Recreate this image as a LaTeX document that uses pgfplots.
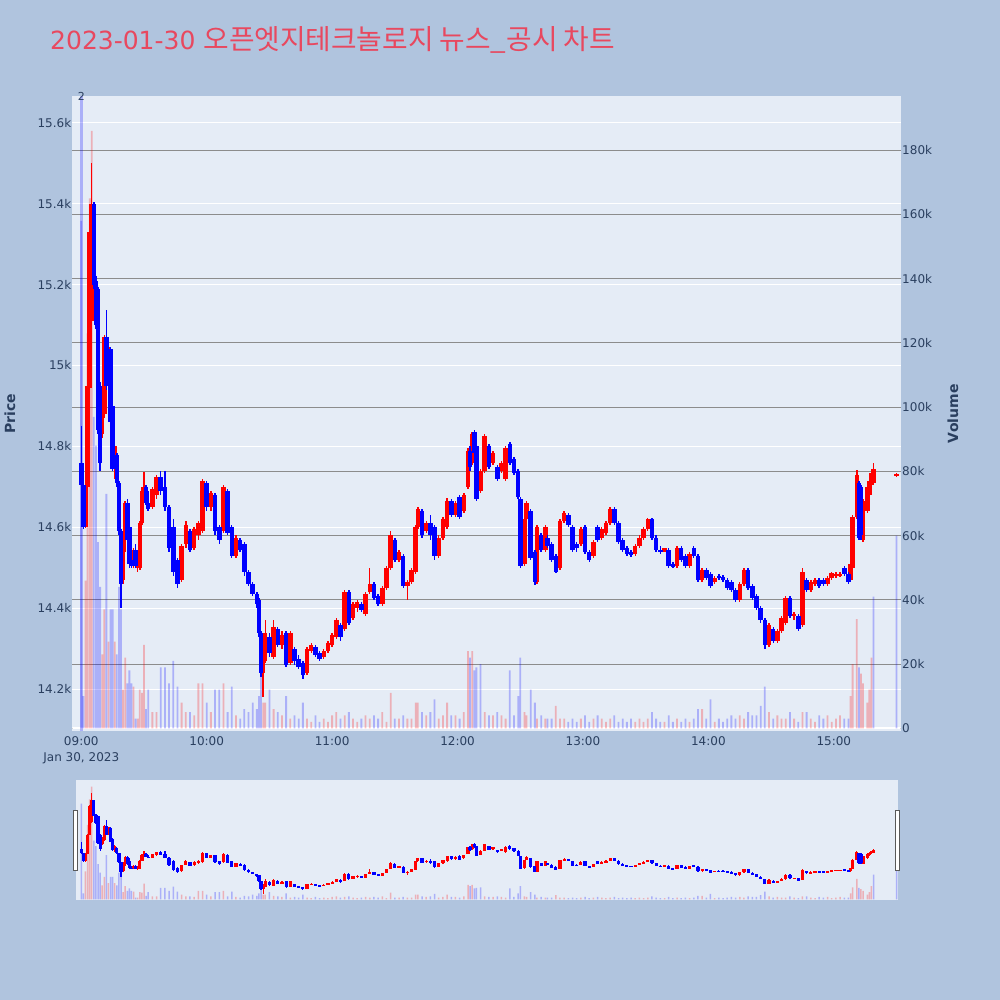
\documentclass[border=0pt]{standalone}
\usepackage{pgfplots}
\pgfplotsset{compat=1.18}
\usepackage{pgfplotstable}
\usepackage{fontspec}
\setmainfont{DejaVu Sans}
\newfontfamily\cjk{Noto Sans CJK KR}
\definecolor{pagebg}{HTML}{B0C4DE}
\definecolor{plotbg}{HTML}{E5ECF6}
\definecolor{txt}{HTML}{2A3F5F}
\definecolor{ttl}{HTML}{E8485F}
\definecolor{vgrid}{HTML}{8C8C8C}
\definecolor{upc}{HTML}{FF0000}
\definecolor{dnc}{HTML}{0000FF}

\pgfplotstableread{
t o h l c v d
0 14760 14850 14700 14705 158 0
1 14705 14710 14595 14600 10 0
2 14600 14710 14598 14700 46 1
3 14700 14960 14698 14950 123 1
4 14945 15340 14940 15330 165 1
5 15110 15500 15105 15400 186 1
6 15400 15405 15190 15200 97 0
7 15210 15220 15090 15100 88 0
8 15190 15195 14830 14840 58 0
9 14950 14960 14740 14760 44 0
10 14830 14920 14820 14910 23 1
11 14880 15075 14870 15070 37 1
12 15070 15137 14940 14950 73 0
13 14950 15050 14945 15045 27 1
14 15040 15045 14850 14860 37 0
15 14900 14905 14740 14745 37 0
16 14745 14810 14720 14800 27 1
17 14780 14785 14700 14710 23 0
18 14710 14715 14580 14590 44 0
19 14590 14595 14400 14460 37 0
20 14470 14590 14460 14585 12 1
21 14580 14665 14540 14660 22 1
22 14660 14670 14560 14570 14 0
23 14600 14640 14500 14510 18 0
24 14520 14540 14500 14505 14 0
25 14510 14550 14500 14545 13 1
26 14545 14560 14500 14505 3 0
27 14500 14540 14490 14535 3 1
28 14500 14615 14495 14610 12 1
29 14610 14700 14605 14690 11 1
30 14690 14738 14685 14700 26 1
31 14700 14705 14655 14660 6 0
32 14660 14690 14640 14645 12 0
34 14650 14700 14645 14695 5 1
36 14680 14730 14670 14725 5 1
38 14725 14740 14680 14690 19 0
40 14700 14740 14640 14650 19 0
42 14650 14655 14540 14550 14 0
44 14600 14620 14480 14490 21 0
46 14520 14525 14450 14460 13 0
48 14470 14560 14465 14555 8 1
50 14560 14615 14550 14605 5 1
52 14590 14595 14540 14545 5 0
54 14550 14600 14545 14595 4 1
56 14580 14615 14570 14610 14 1
58 14590 14720 14585 14715 14 1
60 14710 14715 14640 14650 8 0
62 14650 14690 14640 14685 5 1
64 14680 14685 14580 14590 12 0
66 14600 14605 14560 14570 12 0
68 14590 14705 14585 14700 14 1
70 14690 14695 14580 14585 5 0
72 14600 14605 14525 14530 13 0
74 14530 14580 14525 14575 4 1
76 14570 14575 14540 14545 3 0
78 14560 14565 14480 14490 6 0
80 14490 14495 14455 14460 5 0
82 14460 14465 14430 14435 8 0
84 14435 14440 14400 14410 6 0
85 14420 14425 14330 14340 10 0
86 14340 14345 14230 14240 19 0
87 14240 14300 14180 14290 8 1
88 14270 14370 14265 14340 8 1
90 14330 14340 14280 14290 12 0
92 14280 14370 14275 14355 6 1
94 14350 14355 14305 14310 5 0
96 14310 14345 14300 14335 4 1
98 14340 14345 14255 14260 10 0
100 14265 14345 14260 14340 3 1
102 14300 14305 14260 14270 4 0
104 14275 14285 14250 14255 3 0
106 14265 14270 14225 14235 8 0
108 14240 14305 14235 14300 3 1
110 14295 14315 14290 14310 2 1
112 14305 14310 14280 14285 4 0
114 14290 14295 14270 14275 2 0
116 14280 14300 14275 14295 3 1
118 14295 14320 14290 14315 2 1
120 14310 14340 14305 14335 4 1
122 14330 14375 14325 14370 5 1
124 14360 14365 14320 14330 3 0
126 14350 14445 14345 14440 4 1
128 14440 14445 14360 14365 5 0
130 14375 14415 14370 14410 3 1
132 14400 14420 14390 14415 2 1
134 14410 14415 14390 14395 3 0
136 14385 14440 14380 14435 4 1
138 14440 14500 14435 14460 3 1
140 14460 14465 14420 14425 4 0
142 14430 14435 14405 14410 3 0
144 14410 14455 14405 14450 5 1
146 14450 14505 14445 14500 2 1
148 14500 14590 14495 14580 11 1
150 14570 14575 14515 14520 3 0
152 14520 14545 14515 14540 3 1
154 14530 14535 14450 14455 4 0
156 14455 14470 14420 14465 3 1
158 14465 14500 14460 14495 3 1
160 14490 14605 14485 14600 8 1
161 14600 14650 14595 14645 8 1
163 14640 14645 14575 14580 5 0
165 14590 14615 14585 14610 4 1
167 14610 14630 14570 14580 5 0
169 14600 14605 14520 14530 9 0
171 14530 14580 14525 14575 3 1
173 14575 14625 14570 14620 4 1
175 14600 14672 14595 14665 8 1
177 14665 14670 14625 14630 4 0
179 14630 14665 14625 14660 4 1
181 14675 14680 14620 14625 3 0
183 14640 14685 14635 14680 5 1
185 14700 14795 14695 14790 24 1
186 14790 14800 14740 14750 22 0
187 14760 14835 14755 14830 24 1
188 14835 14841 14780 14785 18 0
189 14800 14805 14665 14670 19 0
191 14690 14745 14685 14740 20 0
193 14740 14830 14735 14825 5 1
195 14800 14805 14745 14750 4 0
197 14760 14790 14755 14785 4 1
199 14750 14755 14715 14720 5 0
201 14740 14765 14735 14760 4 1
203 14720 14800 14715 14795 3 1
205 14805 14810 14755 14760 18 0
207 14770 14775 14730 14735 4 0
209 14740 14745 14670 14675 10 0
210 14670 14675 14500 14505 22 0
212 14510 14625 14505 14620 5 1
213 14620 14665 14615 14660 4 1
215 14640 14645 14520 14525 12 0
217 14540 14545 14458 14465 8 0
218 14465 14605 14460 14600 3 1
220 14580 14585 14540 14545 4 0
222 14545 14605 14540 14600 3 1
223 14575 14580 14550 14555 3 0
225 14560 14565 14515 14520 3 0
227 14530 14535 14488 14490 7 1
229 14500 14620 14495 14615 3 1
231 14615 14640 14610 14635 3 1
233 14630 14635 14600 14605 2 0
235 14600 14605 14540 14545 3 0
237 14560 14565 14540 14550 2 0
239 14560 14600 14555 14595 3 1
241 14600 14605 14535 14540 4 0
243 14540 14545 14515 14520 2 0
245 14530 14570 14525 14565 3 1
247 14600 14605 14565 14570 4 0
249 14575 14600 14570 14595 3 1
251 14585 14615 14580 14610 2 1
253 14610 14650 14605 14645 3 1
255 14645 14650 14605 14610 4 0
257 14610 14615 14560 14565 2 0
259 14570 14575 14540 14545 3 0
261 14550 14555 14530 14535 2 0
263 14540 14545 14528 14532 3 0
265 14535 14560 14530 14555 2 1
267 14555 14580 14550 14575 3 1
269 14575 14600 14570 14595 2 1
271 14595 14622 14590 14620 3 1
273 14620 14622 14570 14575 5 0
275 14575 14580 14540 14545 3 0
277 14545 14555 14535 14540 2 0
279 14540 14550 14538 14548 2 1
281 14545 14550 14500 14505 4 0
283 14510 14515 14500 14503 2 0
285 14505 14555 14500 14550 3 1
287 14550 14555 14515 14520 2 0
289 14530 14535 14500 14505 3 0
291 14505 14540 14500 14535 2 1
293 14550 14555 14525 14530 3 0
295 14530 14535 14465 14470 6 0
297 14470 14500 14465 14495 6 1
299 14495 14500 14470 14475 3 0
301 14485 14490 14450 14455 9 0
303 14465 14480 14460 14475 2 1
305 14480 14485 14470 14475 3 0
307 14478 14482 14465 14470 2 0
309 14470 14475 14445 14450 3 0
311 14465 14470 14440 14445 4 0
313 14445 14450 14415 14420 3 0
315 14420 14465 14415 14460 4 1
317 14460 14500 14455 14495 3 1
319 14495 14500 14445 14450 5 0
321 14455 14460 14420 14425 4 0
323 14430 14435 14395 14400 4 0
325 14400 14405 14365 14370 7 0
327 14370 14375 14300 14310 13 0
329 14310 14365 14305 14360 5 1
331 14350 14355 14315 14320 3 0
333 14320 14350 14315 14345 4 1
335 14345 14380 14340 14375 3 1
337 14365 14430 14360 14425 3 1
339 14425 14430 14375 14380 5 0
341 14380 14390 14370 14385 3 1
343 14380 14385 14345 14350 2 0
345 14360 14500 14355 14490 5 1
347 14470 14475 14440 14445 5 0
349 14445 14470 14440 14465 3 1
351 14460 14475 14455 14470 2 1
353 14470 14475 14450 14455 4 0
355 14470 14475 14455 14460 3 0
357 14460 14480 14455 14475 4 1
359 14475 14490 14470 14488 2 1
361 14480 14490 14475 14485 3 1
363 14480 14490 14478 14486 4 1
365 14500 14505 14480 14485 3 0
367 14485 14490 14460 14465 3 0
368 14470 14515 14465 14510 10 1
369 14500 14630 14495 14625 20 1
371 14625 14742 14620 14730 34 1
372 14710 14715 14570 14575 19 0
373 14700 14705 14570 14580 17 1
374 14570 14670 14565 14665 14 1
376 14640 14705 14635 14700 8 1
377 14680 14720 14670 14715 12 1
378 14705 14740 14700 14735 22 1
379 14710 14760 14705 14745 41 0
390 14727 14735 14725 14733 60 0
}\data

\pgfplotsset{
  candle/.style n args={3}{only marks, mark=text, text mark={}, forget plot,
    restrict expr to domain={\thisrow{c}-\thisrow{o}}{#1},
    error bars/.cd, y dir=both, y explicit, error mark=none,
    error bar style={line width=#2, draw=#3}},
}
\newcommand{\candles}[2]{%
  \addplot[candle={0:100000}{#2}{upc}]
    table[x=t, y expr={0.5*(\thisrow{h}+\thisrow{l})}, y error expr={0.5*(\thisrow{h}-\thisrow{l})}] {\data};
  \addplot[candle={0:100000}{#1}{upc}]
    table[x=t, y expr={0.5*(\thisrow{o}+\thisrow{c})}, y error expr={0.5*abs(\thisrow{c}-\thisrow{o})}] {\data};
  \addplot[candle={-100000:-0.01}{#2}{dnc}]
    table[x=t, y expr={0.5*(\thisrow{h}+\thisrow{l})}, y error expr={0.5*(\thisrow{h}-\thisrow{l})}] {\data};
  \addplot[candle={-100000:-0.01}{#1}{dnc}]
    table[x=t, y expr={0.5*(\thisrow{o}+\thisrow{c})}, y error expr={0.5*abs(\thisrow{c}-\thisrow{o})}] {\data};
}
\newcommand{\volbars}[1]{%
  \addplot[ybar, bar width=#1, bar shift=0pt, fill=upc, fill opacity=0.25, draw=none,
    restrict expr to domain={\thisrow{d}}{0.5:1.5}] table[x=t, y=v] {\data};
  \addplot[ybar, bar width=#1, bar shift=0pt, fill=dnc, fill opacity=0.25, draw=none,
    restrict expr to domain={\thisrow{d}}{-0.5:0.5}] table[x=t, y=v] {\data};
}

\pgfplotsset{
  base/.style={scale only axis, width=828.4pt, height=635.5pt,
    at={(72.3pt,268.5pt)}, anchor=south west, xmin=-4.3, xmax=392,
    axis line style={draw=none}, major tick length=0pt, scaled ticks=false},
  slider/.style={scale only axis, width=828.4pt, height=120pt,
    at={(72.3pt,100pt)}, anchor=south west, xmin=-4.3, xmax=392, hide axis, scaled ticks=false},
}

\begin{document}
\begin{tikzpicture}[x=1pt,y=1pt]
\fill[pagebg] (0,0) rectangle (1000,1000);
\node[anchor=base west, text=ttl, font=\fontsize{25}{30}\selectfont, inner sep=0pt] at (50,950)
  {2023-01-30 {\cjk\fontsize{27.8}{30}\selectfont 오픈엣지테크놀로지 뉴스\_공시 차트}};

% price axis: background, white grid, labels
\begin{axis}[base, ymin=14095.7, ymax=15666,
  axis background/.style={fill=plotbg},
  ytick={14200,14400,14600,14800,15000,15200,15400,15600},
  yticklabels={14.2k,14.4k,14.6k,14.8k,15k,15.2k,15.4k,15.6k},
  ymajorgrids, y grid style={white, line width=1pt},
  xtick={0,60,120,180,240,300,360},
  xticklabels={{09:00\\Jan 30, 2023},10:00,11:00,12:00,13:00,14:00,15:00},
  xticklabel style={align=center, font=\fontsize{12}{16}\selectfont, text=txt, yshift=-1.5pt},
  yticklabel style={font=\fontsize{12}{14}\selectfont, text=txt, xshift=2.5pt}]
\end{axis}

% volume axis
\begin{axis}[base, ymin=-1, ymax=196.9, xtick=\empty,
  ytick={0,20,40,60,80,100,120,140,160,180},
  yticklabels={0,20k,40k,60k,80k,100k,120k,140k,160k,180k},
  yticklabel pos=right,
  ymajorgrids, y grid style={vgrid, line width=1pt},
  yticklabel style={font=\fontsize{12}{14}\selectfont, text=txt, xshift=-2pt}]
  \draw[white, line width=2pt] (axis cs:-4.3,0) -- (axis cs:392,0);
  \draw[dnc, opacity=0.25, line width=2.6pt] (axis cs:0,-1) -- (axis cs:0,196.9);
  \volbars{1.8pt}
\end{axis}

% candles
\begin{axis}[base, ymin=14095.7, ymax=15666, hide axis]
  \candles{4.5pt}{1.4pt}
\end{axis}
\node[text=txt, font=\fontsize{11}{12}\selectfont, inner sep=0pt] at (81.4,904) {2};

\node[rotate=90, text=txt, font=\bfseries\fontsize{14}{16}\selectfont] at (10,586.25) {Price};
\node[rotate=90, text=txt, font=\bfseries\fontsize{14}{16}\selectfont] at (953,586.25) {Volume};

% range slider
\fill[plotbg] (76,100) rectangle (898,220);
\begin{axis}[slider, ymin=-1, ymax=196.9]
  \volbars{1.5pt}
\end{axis}
\begin{axis}[slider, ymin=14095.7, ymax=15666]
  \candles{3.2pt}{1.2pt}
\end{axis}
\draw[fill=white, draw=black!65, line width=0.8pt] (73.5,130) rectangle (77.5,190);
\draw[fill=white, draw=black!65, line width=0.8pt] (895.5,130) rectangle (899.5,190);
\end{tikzpicture}
\end{document}
